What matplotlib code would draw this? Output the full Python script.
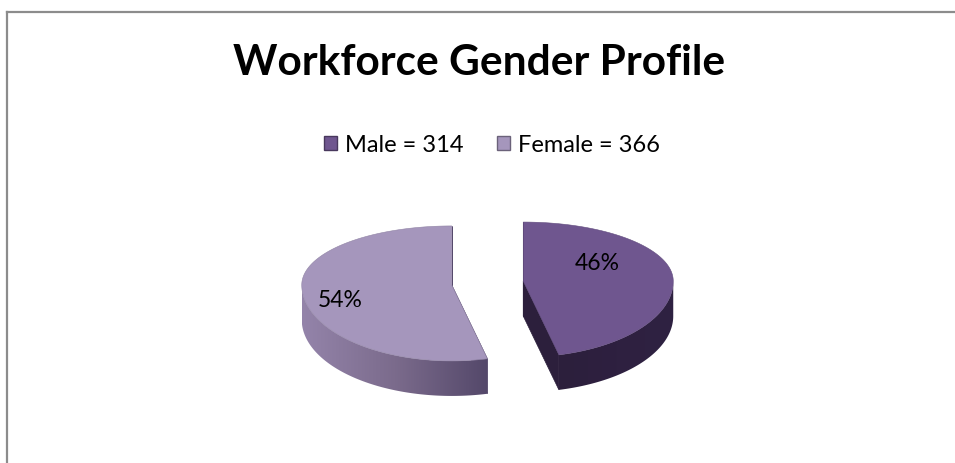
import numpy as np
import matplotlib
matplotlib.use('Agg')
import matplotlib.pyplot as plt
from matplotlib.patches import Polygon, Rectangle
from matplotlib.lines import Line2D
from matplotlib.colors import to_rgb, LinearSegmentedColormap

labels = ['Male = 314', 'Female = 366']
values = [314, 366]
top_colors = ['#6f568f', '#a596bc']
wall_colors = [['#2f2242', '#2e2040', '#2c1f3c'],
               ['#9484aa', '#7b6b8c', '#54486a']]

plt.rcParams['font.family'] = ['Lato', 'DejaVu Sans']

W, H = 955, 464
fig = plt.figure(figsize=(W / 100, H / 100), dpi=100)
fig.patch.set_facecolor('white')

# pie drawn in one axes: 1 unit = 150 px both ways
scale = 150.0
cx, cy = 487.5, 284.0
ax = fig.add_axes([0, 0, 1, 1])
ax.axis('off')

# chart frame (left and top edges only show)
fig.add_artist(Line2D([6.5 / W, 6.5 / W], [0, 1 - 12.5 / H], color='#8c8c8c', lw=1.6))
fig.add_artist(Line2D([6.5 / W, 1], [1 - 12.5 / H, 1 - 12.5 / H], color='#8c8c8c', lw=1.6))

ry_back, ry_front = 59 / scale, 76 / scale
depth = 35 / scale
explode = 0.24
label_r = [0.5, 0.75]
label_dy = [0.1, -0.05]


def proj(t, ox, oy):
    # t measured clockwise from 12 o'clock
    t = np.asarray(t)
    c = np.cos(t)
    ry = np.where(c > 0, ry_back, ry_front)
    return ox + np.sin(t), oy + ry * c


def mix(c1, c2, f):
    a, b = np.array(to_rgb(c1)), np.array(to_rgb(c2))
    return a + (b - a) * f


total = float(sum(values))
start = 0.0
for i, v in enumerate(values):
    span = 2 * np.pi * v / total
    t0, t1 = start, start + span
    mid = (t0 + t1) / 2
    ox = explode * np.sin(mid)
    oy = explode * np.cos(mid) * 0.45
    # radial cut faces
    for te in (t0, t1):
        xe, ye = proj(te, ox, oy)
        face = [(ox, oy), (float(xe), float(ye)),
                (float(xe), float(ye) - depth), (ox, oy - depth)]
        ax.add_patch(Polygon(face, closed=True, facecolor=wall_colors[i][2],
                             edgecolor=wall_colors[i][2], linewidth=0.5, zorder=2))
    # outer wall, front half only, with a left-to-right shade
    a0, a1 = max(t0, np.pi / 2), min(t1, 3 * np.pi / 2)
    if a1 > a0:
        ts = np.linspace(a0, a1, 200)
        xs, ys = proj(ts, ox, oy)
        poly = list(zip(xs, ys)) + list(zip(xs[::-1], ys[::-1] - depth))
        wall = Polygon(poly, closed=True, facecolor='none', edgecolor='none', zorder=3)
        ax.add_patch(wall)
        cmap = LinearSegmentedColormap.from_list('w%d' % i, wall_colors[i])
        x_lo, x_hi = xs.min(), xs.max()
        y_lo, y_hi = (ys - depth).min(), ys.max()
        grad = np.linspace(0, 1, 256)[None, :]
        if i == 0:
            grad = grad[:, ::-1]
        im = ax.imshow(grad, cmap=cmap, extent=(x_lo, x_hi, y_lo, y_hi),
                       aspect='auto', zorder=3, interpolation='bilinear')
        im.set_clip_path(wall)
    # top face
    ts = np.linspace(t0, t1, 200)
    xs, ys = proj(ts, ox, oy)
    top = [(ox, oy)] + list(zip(xs, ys))
    ax.add_patch(Polygon(top, closed=True, facecolor=top_colors[i],
                         edgecolor=mix(top_colors[i], '#000000', 0.12),
                         linewidth=0.4, zorder=4))
    lx, ly = proj(mid, ox, oy)
    ax.text(ox + label_r[i] * (lx - ox), oy + label_r[i] * (ly - oy) + label_dy[i],
            f'{round(100 * v / total)}%', fontsize=16.5, ha='center', va='center', zorder=6)
    start = t1

ax.set_xlim(-cx / scale, (W - cx) / scale)
ax.set_ylim(-(H - cy) / scale, cy / scale)

fig.text(479 / W, 1 - 63 / H, 'Workforce Gender Profile', fontsize=30.5,
         fontweight='bold', ha='center', va='center')

handles = [Rectangle((0, 0), 1, 1, facecolor=c,
                     edgecolor=mix(c, '#000000', 0.35), linewidth=1)
           for c in top_colors]
fig.legend(handles, labels, loc='center', bbox_to_anchor=(492 / W, 1 - 146 / H),
           ncol=2, frameon=False, fontsize=17, handlelength=0.55,
           handleheight=0.55, handletextpad=0.35, columnspacing=1.4)

fig.savefig('out.png', dpi=100, facecolor='white')
